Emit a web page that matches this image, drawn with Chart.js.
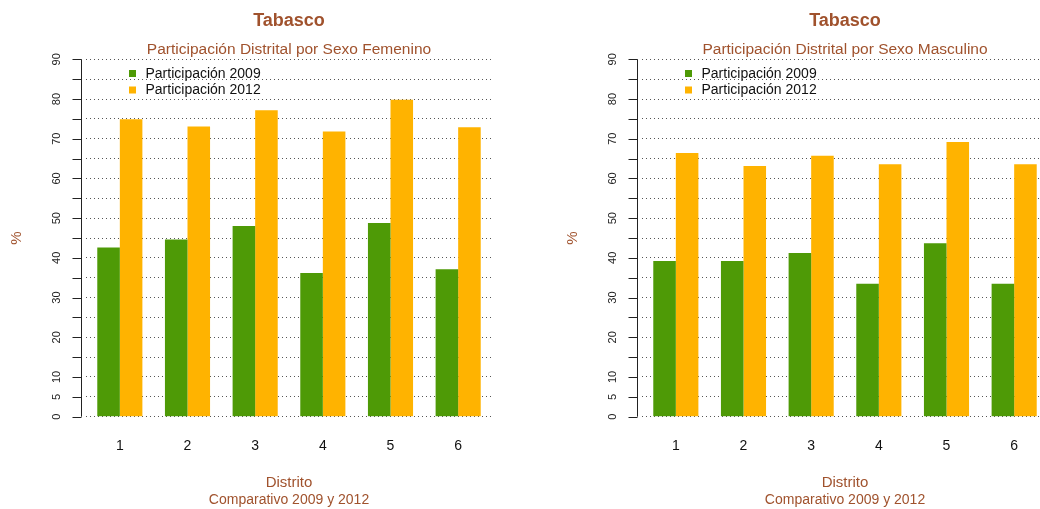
<!DOCTYPE html>
<html>
<head>
<meta charset="utf-8">
<script src="https://cdn.jsdelivr.net/npm/chart.js@4/dist/chart.umd.min.js"></script>
<style>
  html, body { margin: 0; padding: 0; background: #fff; width: 1040px; height: 509px; overflow: hidden; }
  #wrap { position: relative; width: 1040px; height: 509px; overflow: hidden; }
  .panel { position: absolute; top: 0; width: 520px; height: 509px; }
</style>
</head>
<body>
<div id="wrap">
  <div class="panel" style="left:0px"><canvas id="c1" width="520" height="509"></canvas></div>
  <div class="panel" style="left:556px"><canvas id="c2" width="520" height="509"></canvas></div>
</div>
<script>
// ---- data ----
const categories = ['1', '2', '3', '4', '5', '6'];
const femenino2009 = [42.6, 44.6, 48.0, 36.2, 48.8, 37.1];
const femenino2012 = [74.9, 73.1, 77.2, 71.8, 79.8, 72.9];
const masculino2009 = [39.2, 39.2, 41.2, 33.5, 43.7, 33.5];
const masculino2012 = [66.4, 63.1, 65.7, 63.6, 69.2, 63.6];
const seriesNames = ['Participación 2009', 'Participación 2012'];
const yTickValues = [0, 5, 10, 15, 20, 25, 30, 35, 40, 45, 50, 55, 60, 65, 70, 75, 80, 85, 90];
const yTickLabels = ['0', '5', '10', '20', '30', '40', '50', '60', '70', '80', '90'];
const mainTitle = 'Tabasco';
const subTitles = ['Participación Distrital por Sexo Femenino', 'Participación Distrital por Sexo Masculino'];
const yTitle = '%';
const xTitle = 'Distrito';
const xSubTitle = 'Comparativo 2009 y 2012';

const GREEN = '#4E9A06';
const ORANGE = '#FFB300';
const BROWN = '#A0522D';
const FONT = '"Liberation Sans", Arial, Helvetica, sans-serif';

const decor = {
  id: 'decor',
  afterDraw(chart, args, opts) {
    const ctx = chart.ctx;
    const ys = chart.scales.y;
    const ca = chart.chartArea;
    const cx = (ca.left + ca.right) / 2;
    ctx.save();
    // titles
    ctx.fillStyle = BROWN;
    ctx.textAlign = 'center';
    ctx.textBaseline = 'middle';
    ctx.font = 'bold 18px ' + FONT;
    ctx.fillText(mainTitle, cx, 21);
    ctx.font = '15.5px ' + FONT;
    ctx.fillText(opts.subtitle, cx, 49.5);
    ctx.font = '15px ' + FONT;
    ctx.fillText(xTitle, cx, 482.5);
    ctx.font = '14px ' + FONT;
    ctx.fillText(xSubTitle, cx, 500);
    // y title
    ctx.save();
    ctx.font = '15px ' + FONT;
    ctx.translate(17, 238);
    ctx.rotate(-Math.PI / 2);
    ctx.fillText(yTitle, 0, 0);
    ctx.restore();
    // y axis
    const ax = ca.left - 4.5;
    ctx.strokeStyle = '#222';
    ctx.lineWidth = 1;
    ctx.beginPath();
    ctx.moveTo(ax, ys.getPixelForValue(0));
    ctx.lineTo(ax, ys.getPixelForValue(90));
    yTickValues.forEach(v => {
      const py = Math.round(ys.getPixelForValue(v)) + 0.5;
      ctx.moveTo(ax - 9, py);
      ctx.lineTo(ax, py);
    });
    ctx.stroke();
    ctx.fillStyle = '#222';
    ctx.font = '11px ' + FONT;
    yTickLabels.forEach(l => {
      const py = ys.getPixelForValue(Number(l));
      ctx.save();
      ctx.translate(57, py);
      ctx.rotate(-Math.PI / 2);
      ctx.textAlign = 'center';
      ctx.textBaseline = 'middle';
      ctx.fillText(l, 0, 0);
      ctx.restore();
    });
    // legend
    const colors = [GREEN, ORANGE];
    ctx.font = '14px ' + FONT;
    ctx.textAlign = 'left';
    ctx.textBaseline = 'middle';
    seriesNames.forEach((n, i) => {
      const yy = 73.5 + i * 16.5;
      ctx.fillStyle = colors[i];
      ctx.fillRect(129, yy - 3.5, 7, 7);
      ctx.fillStyle = '#111';
      ctx.fillText(n, 145.5, yy + 0.5);
    });
    ctx.restore();
  }
};

function makeChart(id, d09, d12, subtitle) {
  return new Chart(document.getElementById(id), {
    type: 'bar',
    data: {
      labels: categories,
      datasets: [
        { label: seriesNames[0], data: d09, backgroundColor: GREEN, borderWidth: 0 },
        { label: seriesNames[1], data: d12, backgroundColor: ORANGE, borderWidth: 0 }
      ]
    },
    options: {
      responsive: false,
      animation: false,
      devicePixelRatio: 1,
      layout: { padding: { left: 0, top: 59.3, right: 28, bottom: 0 } },
      plugins: {
        legend: { display: false },
        title: { display: false },
        tooltip: { enabled: false },
        decor: { subtitle: subtitle }
      },
      datasets: { bar: { categoryPercentage: 2 / 3, barPercentage: 1 } },
      scales: {
        x: {
          type: 'category',
          offset: true,
          grid: { display: false, drawTicks: false },
          border: { display: false },
          ticks: { color: '#111', font: { family: FONT, size: 14 }, padding: 21, maxRotation: 0 },
          afterFit(s) { s.height = 92.3; }
        },
        y: {
          type: 'linear',
          min: 0, max: 90,
          grid: { color: '#555', lineWidth: 1, drawTicks: false },
          border: { display: false, dash: [1, 3] },
          ticks: { display: false, stepSize: 5 },
          afterFit(s) { s.width = 86; }
        }
      }
    },
    plugins: [decor]
  });
}

const c1 = makeChart('c1', femenino2009, femenino2012, subTitles[0]);
const c2 = makeChart('c2', masculino2009, masculino2012, subTitles[1]);
</script>
</body>
</html>
